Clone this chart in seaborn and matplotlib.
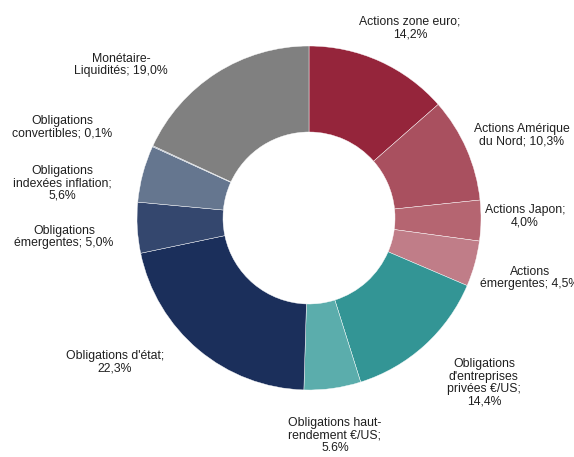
import matplotlib
matplotlib.use("Agg")
import matplotlib.pyplot as plt
import seaborn as sns

# allocation (%), clockwise from the top
labels = ["Actions zone euro;\n{}", "Actions Amérique\ndu Nord; {}", "Actions Japon;\n{}",
          "Actions\némergentes; {}", "Obligations\nd'entreprises\nprivées €/US;\n{}",
          "Obligations haut-\nrendement €/US;\n{}", "Obligations d'état;\n{}",
          "Obligations\némergentes; {}", "Obligations\nindexées inflation;\n{}",
          "Obligations\nconvertibles; {}", "Monétaire-\nLiquidités; {}"]
values = [14.2, 10.3, 4.0, 4.5, 14.4, 5.6, 22.3, 5.0, 5.6, 0.1, 19.0]
decimal_sep = [",", ",", ",", ",", ",", ".", ",", ",", ",", ",", ","]
colors = ["#95253B", "#A9505F", "#B56571", "#C07D88", "#339595", "#5BADAC",
          "#1B2F5B", "#34476E", "#65768F", "#8A9AB0", "#808080"]

# label anchor points (data units, radius = 1)
label_pos = [(0.587, 1.105), (1.238, 0.483), (1.256, 0.012), (1.285, -0.349),
             (1.017, -0.959), (0.151, -1.267), (-1.128, -0.837), (-1.424, -0.110),
             (-1.436, 0.203), (-1.436, 0.529), (-1.093, 0.890)]

sns.set_theme(style="white")
plt.rcParams["font.family"] = ["Liberation Sans", "DejaVu Sans"]

fig = plt.figure(figsize=(5.74, 4.57), dpi=100)
ax = fig.add_axes([0, 0, 1, 1])
ax.pie(values, colors=colors, startangle=90, counterclock=False, radius=1.0,
       wedgeprops=dict(width=0.5, edgecolor="white", linewidth=0.3))

for lab, v, sep, (x, y) in zip(labels, values, decimal_sep, label_pos):
    txt = lab.format(f"{v:.1f}".replace(".", sep) + "%")
    ax.text(x, y, txt, ha="center", va="center", fontsize=8.8, color="#1f1f1f",
            linespacing=1.05)

ax.set_xlim(-309 / 172, (574 - 309) / 172)
ax.set_ylim(-239 / 172, (457 - 239) / 172)
ax.set_aspect("auto")
ax.axis("off")

fig.savefig("out.png", dpi=100)
